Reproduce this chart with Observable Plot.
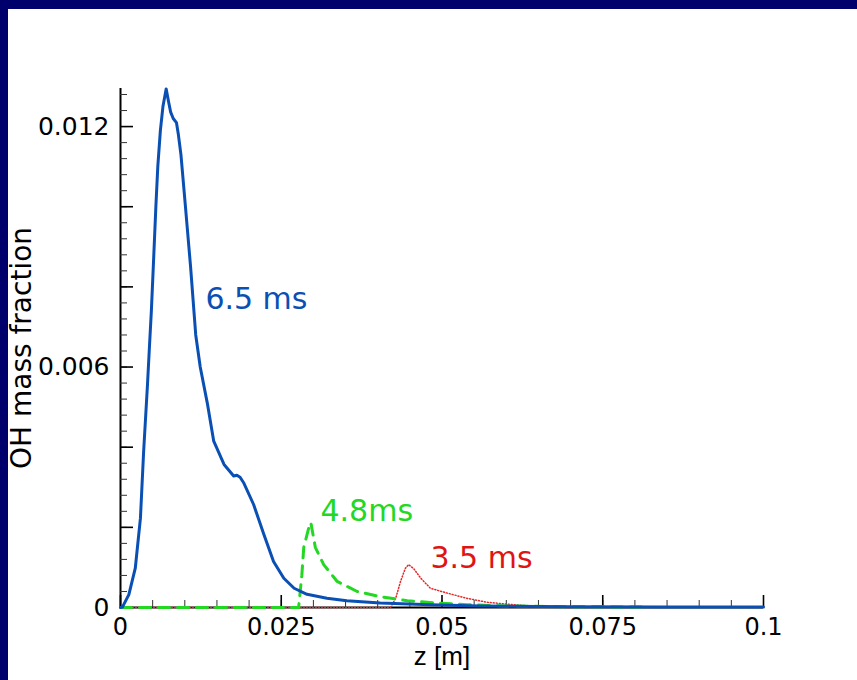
<!DOCTYPE html>
<html><head><meta charset="utf-8">
<script src="https://cdn.jsdelivr.net/npm/d3@7"></script>
<script src="https://cdn.jsdelivr.net/npm/@observablehq/plot@0.6"></script>
<style>
html,body{margin:0;padding:0;width:857px;height:680px;overflow:hidden;background:#00006c;}
#panel{position:absolute;left:8px;top:9px;width:849px;height:671px;background:#fff;}
#chart{position:absolute;left:0;top:0;}
</style></head><body><div id="panel"></div><div id="chart"></div>
<script>
// ---- data ----
const seriesNames = ["6.5 ms", "4.8ms", "3.5 ms"];

const blueZ = [0, 0.0003, 0.0013, 0.0023, 0.0031, 0.0036, 0.0042, 0.0045, 0.0048, 0.0051, 0.0055, 0.0058, 0.0062, 0.0066, 0.0071, 0.0075, 0.0078, 0.0082, 0.0087, 0.0090, 0.0094, 0.0101, 0.0109, 0.0117, 0.0124, 0.0135, 0.0145, 0.0161, 0.0176, 0.0181, 0.0186, 0.0192, 0.0207, 0.0223, 0.0238, 0.0254, 0.0270, 0.0290, 0.0321, 0.0352, 0.0404, 0.0482, 0.056, 0.070, 0.085, 0.1];
const blueV = [0, 0.00001, 0.00032, 0.00098, 0.00223, 0.0039, 0.00557, 0.0065, 0.0074, 0.0085, 0.0100, 0.0110, 0.0119, 0.0125, 0.01294, 0.0126, 0.01236, 0.0122, 0.0121, 0.0118, 0.0113, 0.0100, 0.0085, 0.0068, 0.0060, 0.0051, 0.00415, 0.00357, 0.00328, 0.0033, 0.00325, 0.0031, 0.00257, 0.00182, 0.00115, 0.00073, 0.00048, 0.00033, 0.00023, 0.00017, 0.00011, 0.00007, 0.00004, 0.00002, 0.00001, 0.00001];

const greenZ = [0, 0.0277, 0.0282, 0.0285, 0.0293, 0.0296, 0.0303, 0.0316, 0.0337, 0.0368, 0.0404, 0.0446, 0.0493, 0.0539, 0.060, 0.070, 0.082];
const greenV = [0, 0, 0.0008, 0.0015, 0.0020, 0.00212, 0.0015, 0.00107, 0.00065, 0.0004, 0.00027, 0.00017, 0.00011, 0.00007, 0.00004, 0.00002, 0.00001];

const redZ = [0, 0.0420, 0.0428, 0.04355, 0.0443, 0.0448, 0.0456, 0.0467, 0.0482, 0.0508, 0.0539, 0.0570, 0.0612, 0.065, 0.070];
const redV = [0, 0, 0.00023, 0.00065, 0.00098, 0.00107, 0.00097, 0.00073, 0.00048, 0.00036, 0.00023, 0.00013, 0.00007, 0.00002, 0];

// label anchor points (data units)
const labelZ = [0.0132, 0.0311, 0.0482];
const labelV = [0.00768, 0.00240, 0.00122];

// ticks
const xLabelTicks = [0, 0.025, 0.05, 0.075, 0.1];
const xTickLabels = ["0", "0.025", "0.05", "0.075", "0.1"];
const xMinorTicks = d3.range(0, 0.1001, 0.005);
const yLabelTicks = [0, 0.006, 0.012];
const yTickLabels = ["0", "0.006", "0.012"];
const yMajorTicks = [0, 0.002, 0.004, 0.006, 0.008, 0.010, 0.012];
const yMinorTicks = d3.range(0, 0.01290, 0.0004);

const xTitle = "z [m]";
const yTitle = "OH mass fraction";

// ---- build ----
const zip = (zs, vs) => zs.map((z, i) => ({z, v: vs[i]}));
const blue = zip(blueZ, blueV), green = zip(greenZ, greenV), red = zip(redZ, redV);
const labels = seriesNames.map((name, i) => ({name, z: labelZ[i], v: labelV[i]}));

const BLUE = "#0a50b4", GREEN = "#22d822", RED = "#e01414";

const chart = Plot.plot({
  width: 857, height: 680,
  marginLeft: 120, marginRight: 94, marginTop: 88, marginBottom: 73,
  style: {background: "transparent", fontFamily: "DejaVu Sans", color: "black", overflow: "visible"},
  x: {domain: [0, 0.1]},
  y: {domain: [0, 0.01295]},
  color: {domain: seriesNames, range: [BLUE, GREEN, RED]},
  marks: [
    // axis spines
    Plot.ruleY([0], {stroke: "black", strokeWidth: 2}),
    Plot.ruleX([0], {stroke: "black", strokeWidth: 2}),
    // ticks (inward)
    Plot.axisX(xMinorTicks, {tickSize: -7, text: null, label: null, stroke: "#333", strokeWidth: 1}),
    Plot.axisX(xLabelTicks, {tickSize: -12, text: null, label: null, stroke: "black", strokeWidth: 1.6}),
    Plot.axisX(xLabelTicks, {tickSize: 0, tickPadding: 10, label: null, fontSize: 24,
      tickFormat: d => xTickLabels[xLabelTicks.indexOf(d)]}),
    Plot.axisY(yMinorTicks, {tickSize: -7, text: null, label: null, stroke: "#333", strokeWidth: 1}),
    Plot.axisY(yMajorTicks, {tickSize: -13, text: null, label: null, stroke: "black", strokeWidth: 1.6}),
    Plot.axisY(yLabelTicks, {tickSize: 0, tickPadding: 11, label: null, fontSize: 25,
      tickFormat: d => yTickLabels[yLabelTicks.indexOf(d)]}),
    // titles
    Plot.text([xTitle], {text: d => d, frameAnchor: "bottom", textAnchor: "middle", lineAnchor: "middle", dy: 49, fontSize: 26, fontFamily: "Liberation Sans"}),
    Plot.text([yTitle], {text: d => d, frameAnchor: "left", textAnchor: "middle", lineAnchor: "middle", rotate: -90, dx: -98, fontSize: 28}),
    // curves
    Plot.line(red, {x: "z", y: "v", stroke: "#e62828", strokeWidth: 1.5, strokeDasharray: "1,2"}),
    Plot.line(green, {x: "z", y: "v", stroke: GREEN, strokeWidth: 3, strokeDasharray: "11,8"}),
    Plot.line(blue, {x: "z", y: "v", stroke: BLUE, strokeWidth: 3}),
    // curve labels
    Plot.text(labels, {x: "z", y: "v", text: "name", fill: "name", textAnchor: "start", lineAnchor: "middle", fontSize: 30})
  ]
});
document.getElementById("chart").appendChild(chart);
</script>
</body></html>
